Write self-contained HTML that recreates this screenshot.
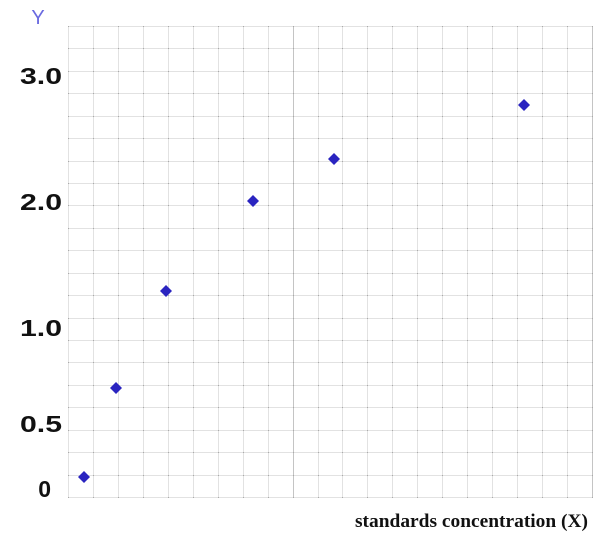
<!DOCTYPE html>
<html><head><meta charset="utf-8"><style>
html,body{margin:0;padding:0;background:#fff;}
svg{display:block;}
</style></head><body>
<svg width="600" height="538" xmlns="http://www.w3.org/2000/svg">
<g id="grid" stroke="#e2e2e2" stroke-width="1">
</g>
<script>
var g=document.getElementById('grid');var ns='http://www.w3.org/2000/svg';
var x0=68,x1=592,y0=26,y1=497;
for(var i=0;i<=21;i++){var x=Math.round(x0+i*(x1-x0)/21)+0.5;var l=document.createElementNS(ns,'line');l.setAttribute('x1',x);l.setAttribute('x2',x);l.setAttribute('y1',y0);l.setAttribute('y2',y1);if(i==9||i==21)l.setAttribute('stroke','#c4c4c4');g.appendChild(l);}
for(var j=0;j<=21;j++){var y=Math.round(y0+j*(y1-y0)/21)+0.5;var l=document.createElementNS(ns,'line');l.setAttribute('x1',x0);l.setAttribute('x2',x1);l.setAttribute('y1',y);l.setAttribute('y2',y);g.appendChild(l);
for(var i=0;i<=21;i++){var x=Math.round(x0+i*(x1-x0)/21);var r=document.createElementNS(ns,'rect');r.setAttribute('x',x);r.setAttribute('y',y-0.5);r.setAttribute('width',1);r.setAttribute('height',1);r.setAttribute('fill','#aaa');r.setAttribute('stroke','none');g.appendChild(r);}}
</script>
<g fill="#2a24c0">
<polygon points="84,471 90,477 84,483 78,477"/>
<polygon points="116,382 122,388 116,394 110,388"/>
<polygon points="166,285 172,291 166,297 160,291"/>
<polygon points="253,195 259,201 253,207 247,201"/>
<polygon points="334,153 340,159 334,165 328,159"/>
<polygon points="524,99 530,105 524,111 518,105"/>
</g>
<g font-family="Liberation Sans, sans-serif" font-weight="bold" font-size="23" fill="#111" text-anchor="end">
<text x="62" y="84" textLength="42" lengthAdjust="spacingAndGlyphs">3.0</text>
<text x="62" y="210" textLength="42" lengthAdjust="spacingAndGlyphs">2.0</text>
<text x="62" y="336" textLength="42" lengthAdjust="spacingAndGlyphs">1.0</text>
<text x="62" y="432" textLength="42" lengthAdjust="spacingAndGlyphs">0.5</text>
<text x="51" y="497">0</text>
</g>
<text x="38" y="24" font-family="Liberation Sans, sans-serif" font-size="20" fill="#6a6ae0" text-anchor="middle">Y</text>
<text x="588" y="527" font-family="Liberation Serif, serif" font-weight="bold" font-size="19" fill="#111" text-anchor="end" textLength="233" lengthAdjust="spacingAndGlyphs">standards concentration (X)</text>
</svg>
</body></html>
